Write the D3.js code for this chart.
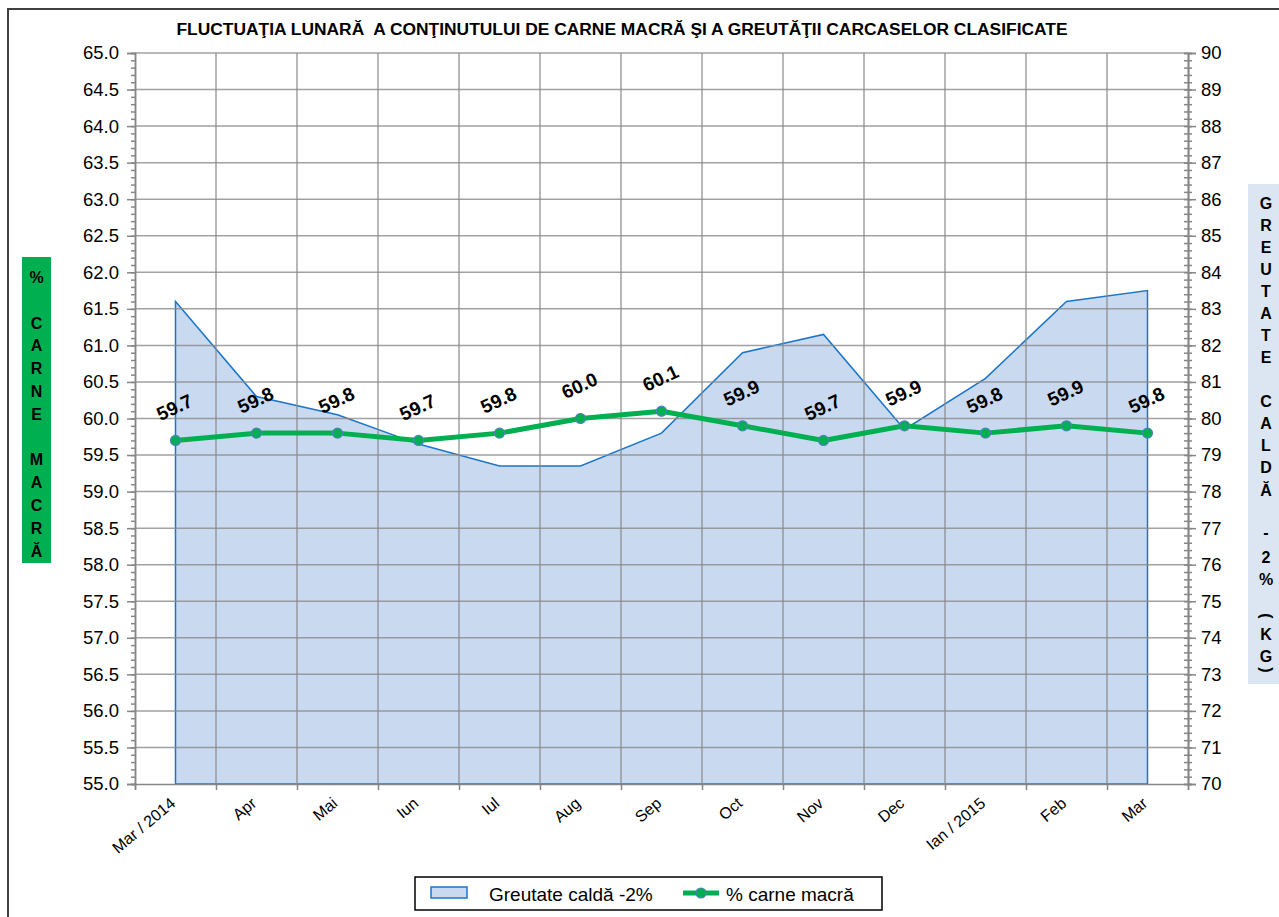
<!DOCTYPE html>
<html>
<head>
<meta charset="utf-8">
<script src="https://cdn.jsdelivr.net/npm/d3@7"></script>
<style>
  html, body { margin: 0; padding: 0; background: #fff; }
  svg { display: block; font-family: "Liberation Sans", Arial, sans-serif; }
</style>
</head>
<body>
<svg id="chart" width="1279" height="917"></svg>
<script>
// ---- data ----
const categories = ["Mar / 2014", "Apr", "Mai", "Iun", "Iul", "Aug", "Sep", "Oct", "Nov", "Dec", "Ian / 2015", "Feb", "Mar"];
const greutateCalda = [83.2, 80.6, 80.1, 79.3, 78.7, 78.7, 79.6, 81.8, 82.3, 79.7, 81.1, 83.2, 83.5];
const carneMacra = [59.7, 59.8, 59.8, 59.7, 59.8, 60.0, 60.1, 59.9, 59.7, 59.9, 59.8, 59.9, 59.8];
const leftTicks = d3.range(0, 21).map(i => 55 + i * 0.5);
const rightTicks = d3.range(70, 91);
const titleText = "FLUCTUAŢIA LUNARĂ  A CONŢINUTULUI DE CARNE MACRĂ ŞI A GREUTĂŢII CARCASELOR CLASIFICATE";
const leftTitleChars = ["%", "", "C", "A", "R", "N", "E", "", "M", "A", "C", "R", "Ă"];
const rightTitleChars = ["G", "R", "E", "U", "T", "A", "T", "E", "", "C", "A", "L", "D", "Ă", "", "-", "2", "%", "", "(", "K", "G", ")"];
const legendNames = ["Greutate caldă -2%", "% carne macră"];

// ---- layout ----
const plot = { left: 135, right: 1188, top: 53, bottom: 784 };
const svg = d3.select("#chart");

// chart border
svg.append("rect").attr("x", 8).attr("y", 9).attr("width", 1300).attr("height", 950)
  .attr("fill", "#fff").attr("stroke", "#404040").attr("stroke-width", 2);

// scales
const x = d3.scaleBand().domain(categories).range([plot.left, plot.right]).paddingInner(0).paddingOuter(0);
const cx = d => x(d) + x.bandwidth() / 2;
const xIdx = d3.scaleLinear().domain([0, categories.length]).range([plot.left, plot.right]);
const yL = d3.scaleLinear().domain([55, 65]).range([plot.bottom, plot.top]);
const yR = d3.scaleLinear().domain([70, 90]).range([plot.bottom, plot.top]);

// title
svg.append("text").attr("x", 622).attr("y", 35).attr("text-anchor", "middle")
  .attr("font-size", 17.4).attr("font-weight", "bold").attr("fill", "#000")
  .attr("xml:space", "preserve").style("white-space", "pre").text(titleText);

// area series
const areaData = categories.map((c, i) => ({ c, v: greutateCalda[i] }));
const area = d3.area().x(d => cx(d.c)).y0(yR(70)).y1(d => yR(d.v));
svg.append("path").datum(areaData).attr("d", area)
  .attr("fill", "#C9DAF0").attr("stroke", "#1B75C9").attr("stroke-width", 1.5)
  .attr("stroke-linejoin", "miter");

// gridlines (on top of area, semi transparent)
const grid = svg.append("g").attr("stroke", "#8a8a8a").attr("stroke-opacity", 0.8).attr("stroke-width", 1.5);
grid.selectAll("line.h").data(leftTicks.filter(t => t > 55)).join("line")
  .attr("x1", plot.left).attr("x2", plot.right)
  .attr("y1", d => yL(d)).attr("y2", d => yL(d));
grid.selectAll("line.v").data(d3.range(1, categories.length)).join("line")
  .attr("x1", d => xIdx(d)).attr("x2", d => xIdx(d))
  .attr("y1", plot.top).attr("y2", plot.bottom);

// axes
const axisColor = "#868686";
function styleAxis(g) {
  g.select(".domain").attr("stroke", axisColor).attr("stroke-width", 1.5);
  g.selectAll(".tick line").attr("stroke", axisColor).attr("stroke-width", 1.5);
  g.selectAll(".tick text").attr("fill", "#000").attr("font-family", "Liberation Sans, Arial, sans-serif");
}
const leftMinor = d3.range(0, 101).map(i => 55 + i * 0.1);
svg.append("g").attr("transform", `translate(${plot.left},0)`)
  .call(d3.axisLeft(yL).tickValues(leftMinor).tickSize(4).tickFormat(""))
  .call(styleAxis);
svg.append("g").attr("transform", `translate(${plot.left},0)`)
  .call(d3.axisLeft(yL).tickValues(leftTicks).tickSize(8).tickPadding(8).tickFormat(d3.format(".1f")))
  .call(styleAxis)
  .call(g => g.selectAll(".tick text").attr("font-size", 18.5));

const rightMinor = d3.range(0, 101).map(i => 70 + i * 0.2);
svg.append("g").attr("transform", `translate(${plot.right},0)`)
  .call(d3.axisRight(yR).tickValues(rightMinor).tickSize(4).tickFormat(""))
  .call(styleAxis);
svg.append("g").attr("transform", `translate(${plot.right},0)`)
  .call(d3.axisLeft(yR).tickValues(rightMinor).tickSize(4).tickFormat(""))
  .call(styleAxis);
svg.append("g").attr("transform", `translate(${plot.right},0)`)
  .call(d3.axisRight(yR).tickValues(rightTicks).tickSize(8).tickPadding(5).tickFormat(d3.format("d")))
  .call(styleAxis)
  .call(g => g.selectAll(".tick text").attr("font-size", 18.5));

// bottom axis: tick marks at band boundaries
svg.append("g").attr("transform", `translate(0,${plot.bottom})`)
  .call(d3.axisBottom(xIdx).tickValues(d3.range(0, categories.length + 1)).tickSize(6).tickFormat(""))
  .call(styleAxis);
const xl = svg.append("g").attr("transform", `translate(0,${plot.bottom})`)
  .call(d3.axisBottom(x).tickSize(0).tickPadding(0))
  .call(styleAxis);
xl.select(".domain").remove();
xl.selectAll(".tick text")
  .attr("font-size", 16)
  .attr("text-anchor", "end")
  .attr("x", 0).attr("y", 0).attr("dy", 0)
  .attr("transform", "translate(1,21) rotate(-40)");

// green line series
const lineData = categories.map((c, i) => ({ c, v: carneMacra[i] }));
const line = d3.line().x(d => cx(d.c)).y(d => yL(d.v));
svg.append("path").datum(lineData).attr("d", line)
  .attr("fill", "none").attr("stroke", "#00B050").attr("stroke-width", 5)
  .attr("stroke-linejoin", "round");
svg.selectAll("circle.m").data(lineData).join("circle")
  .attr("cx", d => cx(d.c)).attr("cy", d => yL(d.v)).attr("r", 5)
  .attr("fill", "#00B050").attr("stroke", "#4F81BD").attr("stroke-width", 1.2);

// data labels
svg.selectAll("g.lbl").data(lineData).join("g")
  .attr("transform", d => `translate(${cx(d.c) - 1},${yL(d.v) - 33}) rotate(-25)`)
  .append("text").attr("text-anchor", "middle").attr("dy", "0.35em")
  .attr("font-size", 19).attr("font-weight", "bold").attr("fill", "#000")
  .text(d => d3.format(".1f")(d.v));

// left axis title box
svg.append("rect").attr("x", 22).attr("y", 257).attr("width", 29).attr("height", 306).attr("fill", "#00B050");
svg.append("g").selectAll("text").data(leftTitleChars).join("text")
  .attr("x", 36.5).attr("y", (d, i) => 283 + i * 22.8)
  .attr("text-anchor", "middle").attr("font-size", 16).attr("font-weight", "bold").attr("fill", "#000")
  .text(d => d);

// right axis title box
svg.append("rect").attr("x", 1248).attr("y", 184).attr("width", 40).attr("height", 500).attr("fill", "#DCE6F2");
const rPos = [209, 231, 253, 275, 297, 319, 341, 363, 0, 407, 429, 451, 473, 496, 0, 538, 563, 585, 0, 622, 640, 662, 676];
const rt = svg.append("g");
rightTitleChars.forEach((ch, i) => {
  if (!ch) return;
  const isParen = ch === "(" || ch === ")";
  const t = rt.append("text").attr("text-anchor", "middle").attr("font-size", 16)
    .attr("font-weight", "bold").attr("fill", "#000").text(ch);
  if (isParen) {
    t.attr("dy", "0.3em").attr("transform", `translate(1266,${rPos[i] - 6}) rotate(90)`);
  } else {
    t.attr("x", 1266).attr("y", rPos[i]);
  }
});

// legend
const lg = svg.append("g");
lg.append("rect").attr("x", 415).attr("y", 877).attr("width", 467).attr("height", 33)
  .attr("fill", "#fff").attr("stroke", "#000").attr("stroke-width", 1.5);
lg.append("rect").attr("x", 431).attr("y", 887).attr("width", 36).attr("height", 11)
  .attr("fill", "#C9DAF0").attr("stroke", "#1B75C9").attr("stroke-width", 1.5);
lg.append("text").attr("x", 489).attr("y", 901).attr("font-size", 19).attr("fill", "#000").text(legendNames[0]);
lg.append("line").attr("x1", 683).attr("x2", 719).attr("y1", 893).attr("y2", 893)
  .attr("stroke", "#00B050").attr("stroke-width", 5);
lg.append("circle").attr("cx", 701).attr("cy", 893).attr("r", 5)
  .attr("fill", "#00B050").attr("stroke", "#4F81BD").attr("stroke-width", 1.2);
lg.append("text").attr("x", 726).attr("y", 901).attr("font-size", 19).attr("fill", "#000").text(legendNames[1]);
</script>
</body>
</html>
